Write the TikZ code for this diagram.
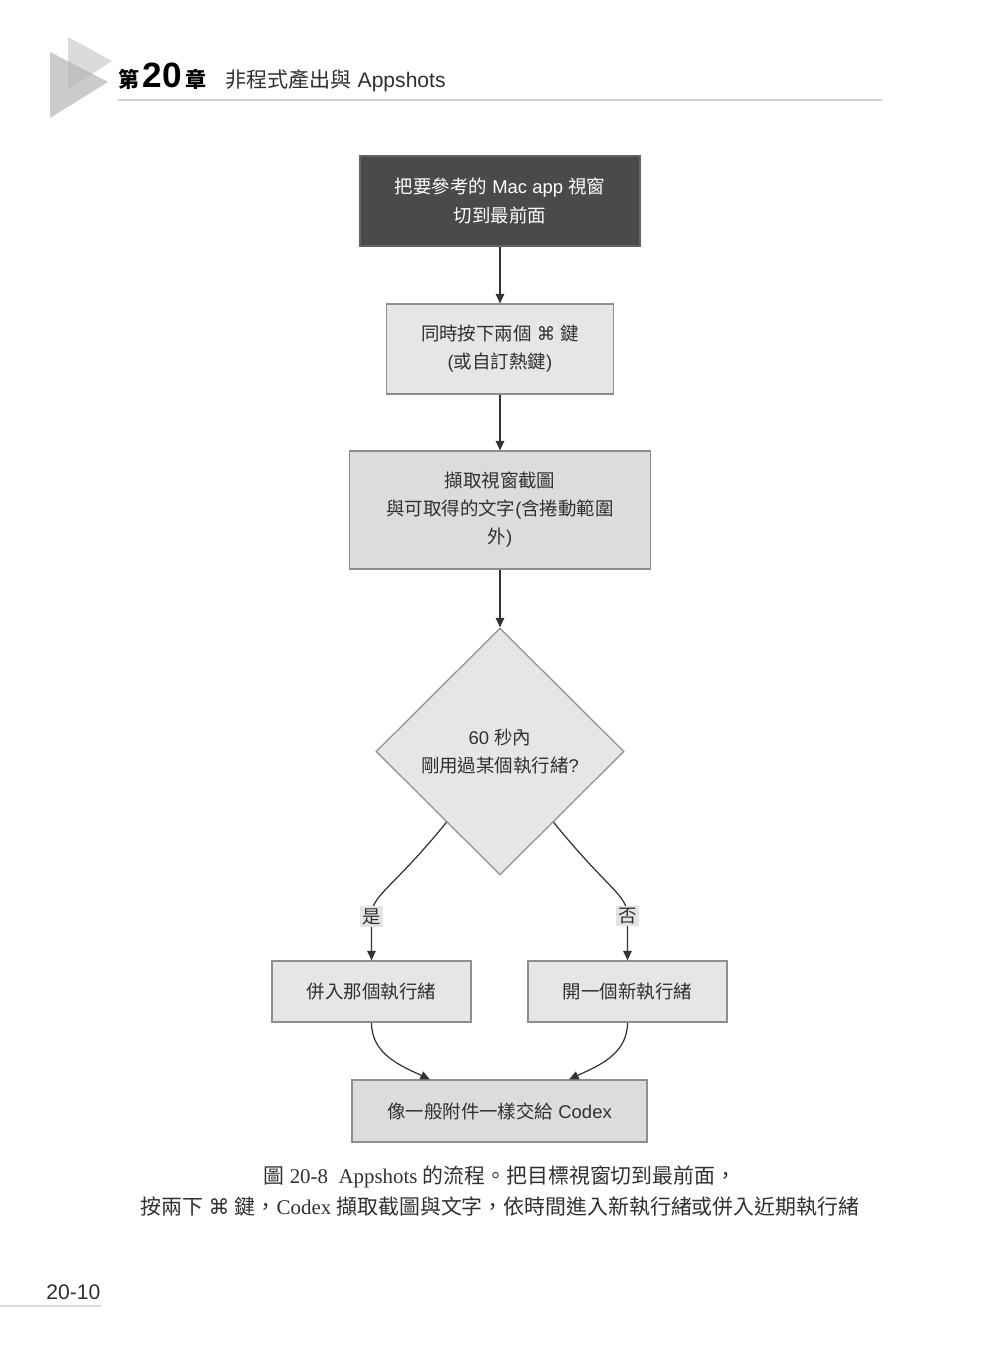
\documentclass[tikz,border=0pt]{standalone}
\usepackage{fontspec}
\setmainfont{Liberation Sans}
\newfontfamily\cjk{Noto Sans CJK TC}
\newfontfamily\symfont{DejaVu Sans}
\newfontfamily\capserif{Liberation Serif}
\newcommand{\zh}[1]{{\cjk #1}}
\newcommand{\cmdkey}{{\symfont ⌘}}
\usepackage{tikz}
\usetikzlibrary{positioning,shapes.geometric,arrows.meta,calc}
\definecolor{boxdark}{HTML}{4A4A4A}
\definecolor{boxlight}{HTML}{E6E6E6}
\definecolor{boxmid}{HTML}{DCDCDC}
\definecolor{boxline}{HTML}{8E8E8E}
\definecolor{linegray}{HTML}{333333}
\definecolor{textgray}{HTML}{303030}
\definecolor{labelgray}{HTML}{E4E4E4}

\begin{document}
\begin{tikzpicture}[
    x=0.02cm, y=-0.02cm,
    box/.style={rectangle, draw=boxline, fill=boxlight, line width=0.7pt, align=center, inner sep=0pt, text=textgray, font=\fontsize{10.5}{16}\selectfont},
    darkbox/.style={box, fill=boxdark, draw=boxline!70!black, text=white},
    midbox/.style={box, fill=boxmid},
    decision/.style={diamond, draw=boxline, fill=boxlight, line width=0.7pt, align=center, inner sep=0pt, aspect=1, text=textgray, font=\fontsize{10.5}{16}\selectfont},
    edgelabel/.style={fill=labelgray, inner sep=1.2pt, text=textgray, font=\fontsize{10.5}{12}\selectfont},
    arrow/.style={draw=linegray, line width=0.7pt, -{Triangle[length=1.9mm,width=1.7mm]}}
]
    \useasboundingbox (0,0) rectangle (1000,1353);

    % page header
    \fill[gray!35, opacity=0.8] (68,37) -- (112,61) -- (68,90) -- cycle;
    \fill[gray!55, opacity=0.75] (50,52) -- (108,82) -- (50,118) -- cycle;
    \node[anchor=base west, inner sep=0pt, font=\fontsize{12}{14}\selectfont\bfseries] (chapno) at (118,87) {\zh{第}\,{\fontsize{20}{22}\selectfont 20}\,\zh{章}};
    \node[anchor=base west, inner sep=0pt, font=\fontsize{12}{14}\selectfont, text=textgray] (chaptitle) at (225,87) {\zh{非程式產出與} Appshots};
    \draw[gray!35, line width=0.6pt] (118,100) -- (882,100);

    % flow boxes
    \node[darkbox, minimum width=5.6cm, minimum height=1.8cm] (front) at (500,201) {\zh{把要參考的} Mac app \zh{視窗}\\ \zh{切到最前面}};
    \node[box, minimum width=4.54cm, minimum height=1.8cm] (hotkey) at (500,349) {\zh{同時按下兩個} \cmdkey\ \zh{鍵}\\ (\zh{或自訂熱鍵})};
    \node[midbox, minimum width=6.02cm, minimum height=2.36cm] (capture) at (500,510) {\zh{擷取視窗截圖}\\ \zh{與可取得的文字}(\zh{含捲動範圍}\\ \zh{外})};
    \node[decision, minimum width=4.96cm, minimum height=4.94cm] (recent) at (500,751.5) {60 \zh{秒內}\\ \zh{剛用過某個執行緒}?};
    \node[box, minimum width=3.98cm, minimum height=1.22cm] (merge) at (371.5,991.5) {\zh{併入那個執行緒}};
    \node[box, minimum width=3.98cm, minimum height=1.22cm] (newthread) at (627.5,991.5) {\zh{開一個新執行緒}};
    \node[midbox, minimum width=5.9cm, minimum height=1.24cm] (codex) at (499.5,1111) {\zh{像一般附件一樣交給} Codex};

    % connectors
    \coordinate (yesbend) at ($(merge.north)+(0,-44)$);
    \coordinate (nobend) at ($(newthread.north)+(0,-44)$);
    \draw[arrow] (front) -- (hotkey);
    \draw[arrow] (hotkey) -- (capture);
    \draw[arrow] (capture) -- (recent);
    \draw[arrow] ($(recent.south)!0.43!(recent.west)$) .. controls +(-55,68) and +(0,-22) .. (yesbend) -- node[edgelabel, pos=0] {\zh{是}} (merge.north);
    \draw[arrow] ($(recent.south)!0.43!(recent.east)$) .. controls +(55,68) and +(0,-22) .. (nobend) -- node[edgelabel, pos=0] {\zh{否}} (newthread.north);
    \draw[arrow] (merge.south) to[out=-90, in=155] ($(codex.north west)!0.265!(codex.north east)$);
    \draw[arrow] (newthread.south) to[out=-90, in=25] ($(codex.north west)!0.735!(codex.north east)$);

    % caption
    \node[inner sep=0pt, font=\fontsize{11.9}{14}\selectfont\capserif, text=textgray] (cap1) at (500,1177) {\zh{圖} 20-8\ \ Appshots \zh{的流程。把目標視窗切到最前面，}};
    \node[inner sep=0pt, font=\fontsize{11.9}{14}\selectfont\capserif, text=textgray] (cap2) at (500,1207) {\zh{按兩下} \cmdkey\ \zh{鍵，}Codex \zh{擷取截圖與文字，依時間進入新執行緒或併入近期執行緒}};

    % page number
    \node[anchor=base west, inner sep=0pt, font=\fontsize{12}{14}\selectfont, text=textgray] (pageno) at (46,1299) {20-10};
    \draw[gray!30, line width=0.6pt] (0,1306) -- (101,1306);
\end{tikzpicture}
\end{document}
